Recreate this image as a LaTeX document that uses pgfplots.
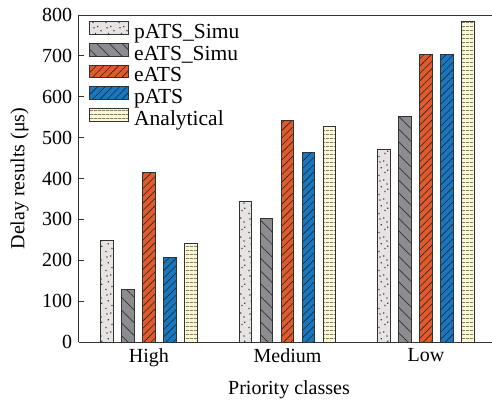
\documentclass[border=0pt]{standalone}
\usepackage{fontspec}
\setmainfont{Liberation Serif}
\usepackage{pgfplots}
\pgfplotsset{compat=1.18}
\usetikzlibrary{patterns.meta}
\definecolor{cPS}{HTML}{E8E3E3}
\definecolor{cES}{HTML}{8C8C91}
\definecolor{cE}{HTML}{E05A2B}
\definecolor{cP}{HTML}{1777C1}
\definecolor{cA}{HTML}{FBF8D3}
\definecolor{edge}{HTML}{333333}
\tikzdeclarepattern{
  name=rdots,
  type=uncolored,
  bounding box={(0pt,0pt) and (13pt,19pt)},
  tile size={(13pt,19pt)},
  code={
    \fill (1.5pt,2pt) rectangle ++(1.3pt,1.3pt);
    \fill (8pt,5pt) rectangle ++(1.3pt,1.3pt);
    \fill (4pt,10pt) rectangle ++(1.3pt,1.3pt);
    \fill (10pt,13pt) rectangle ++(1.3pt,1.3pt);
    \fill (2.5pt,16pt) rectangle ++(1.3pt,1.3pt);
    \fill (6.5pt,17.2pt) rectangle ++(1.3pt,1.3pt);
    \fill (11pt,7.5pt) rectangle ++(1.3pt,1.3pt);
  }
}
\begin{document}
\fontsize{20}{24}\selectfont
\begin{tikzpicture}
\useasboundingbox (-79pt,-63pt) rectangle (413pt,342pt);
\begin{axis}[
  at={(0pt,0pt)}, anchor=south west,
  scale only axis, width=420pt, height=327pt,
  ybar=8.5pt, bar width=12.5pt,
  xmin=-0.505, xmax=2.527, ymin=0, ymax=800,
  axis x line=box, axis y line=left,
  axis line style={-, line width=1pt, draw=edge},
  xtick={0,1,2}, xticklabels={High,Medium,Low},
  major x tick style={draw=none},
  ytick={0,100,...,800}, ytick pos=left, tick align=inside,
  major y tick style={line width=0.8pt, draw=edge},
  major tick length=5pt,
  /pgf/number format/assume math mode=true,
  tick label style={font=\fontsize{20}{24}\selectfont},
  xlabel={Priority classes}, ylabel={Delay results (μs)},
  label style={font=\fontsize{20}{24}\selectfont},
  legend image code/.code={\draw[#1] (0pt,-1pt) rectangle (39pt,11.7pt);},
  legend style={at={(0,1)}, anchor=north west, xshift=10pt, yshift=-6pt, draw=none, fill=none,
    font=\fontsize{21.5}{24}\selectfont, row sep=0.5pt, column sep=5pt, inner sep=0pt,
    nodes={inner sep=0pt, text height=14pt, text depth=4pt}},
  legend cell align=left,
  every axis plot/.append style={draw=edge, line width=1pt},
]
\addplot[fill=cPS, postaction={pattern=rdots, pattern color=black!75}] coordinates {(0,248) (1,343) (2,471)};
\addplot[fill=cES, postaction={pattern={Lines[angle=-45,distance=9pt,line width=0.7pt]}, pattern color=black!80}] coordinates {(0,128) (1,303) (2,551)};
\addplot[fill=cE, postaction={pattern={Lines[angle=45,distance=5.2pt,line width=0.6pt]}, pattern color=black!85}] coordinates {(0,415) (1,543) (2,704)};
\addplot[fill=cP, postaction={pattern={Lines[angle=45,distance=5.2pt,line width=0.6pt]}, pattern color=black!85}] coordinates {(0,207) (1,464) (2,704)};
\addplot[fill=cA, postaction={pattern={Lines[angle=0,distance=4pt,line width=0.6pt]}, pattern color=black!75}] coordinates {(0,240) (1,527) (2,783)};
\legend{pATS\_Simu, eATS\_Simu, eATS, pATS, Analytical}
\end{axis}
\end{tikzpicture}
\end{document}
